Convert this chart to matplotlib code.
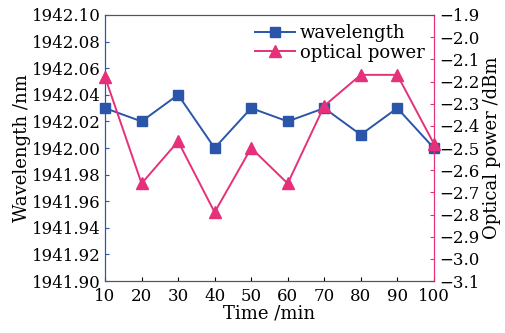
import matplotlib
matplotlib.use("Agg")
import matplotlib.pyplot as plt

plt.rcParams['font.family'] = ['DejaVu Serif']
plt.rcParams['mathtext.fontset'] = 'dejavuserif'

time_min = [10, 20, 30, 40, 50, 60, 70, 80, 90, 100]
wavelength = [1942.03, 1942.02, 1942.04, 1942.00, 1942.03,
              1942.02, 1942.03, 1942.01, 1942.03, 1942.00]
optical_power = [-2.18, -2.66, -2.47, -2.79, -2.50,
                 -2.66, -2.31, -2.17, -2.17, -2.48]

blue = '#2a55a8'
pink = '#e6307a'

fig = plt.figure(figsize=(5.05, 3.33), dpi=100)
ax = fig.add_axes([0.208, 0.156, 0.651, 0.799])
ax2 = ax.twinx()

l1, = ax.plot(time_min, wavelength, '-s', color=blue, lw=1.4, ms=7.5,
              label='wavelength', clip_on=False, zorder=3)
l2, = ax2.plot(time_min, optical_power, '-^', color=pink, lw=1.4, ms=8.5,
               label='optical power', clip_on=False, zorder=3)

ax.set_xlim(10, 100)
ax.set_ylim(1941.90, 1942.10)
ax2.set_ylim(-3.1, -1.9)
ax.set_xticks(time_min)
ax.set_yticks([1941.90 + 0.02 * i for i in range(11)])
ax2.set_yticks([-3.1 + 0.1 * i for i in range(13)])
ax.set_yticklabels(['%.2f' % (1941.90 + 0.02 * i) for i in range(11)])
ax2.set_yticklabels(['\u2212%.1f' % abs(-3.1 + 0.1 * i) for i in range(13)])

ax.set_xlabel('Time /min', fontsize=13, labelpad=0)
ax.set_ylabel('Wavelength /nm', fontsize=13, labelpad=1)
ax2.set_ylabel('Optical power /dBm', fontsize=13, labelpad=2)

for a in (ax, ax2):
    a.tick_params(direction='in', labelsize=12, length=3)
    a.spines['top'].set_color('#555555')
    a.spines['bottom'].set_color('#555555')
ax.tick_params(axis='x', pad=5)
ax.tick_params(axis='y', colors=blue, labelcolor='black', pad=3)
ax2.tick_params(axis='y', colors=pink, labelcolor='black', pad=4)
ax2.spines['left'].set_color(blue)
ax2.spines['right'].set_color(pink)
ax.spines['left'].set_color(blue)
ax.spines['right'].set_color(pink)

ax2.legend([l1, l2], ['wavelength', 'optical power'], loc='upper right',
           frameon=False, fontsize=13, handlelength=2.2, handletextpad=0.3,
           borderaxespad=0.1, labelspacing=0.1)

fig.savefig('out.png', dpi=100)
